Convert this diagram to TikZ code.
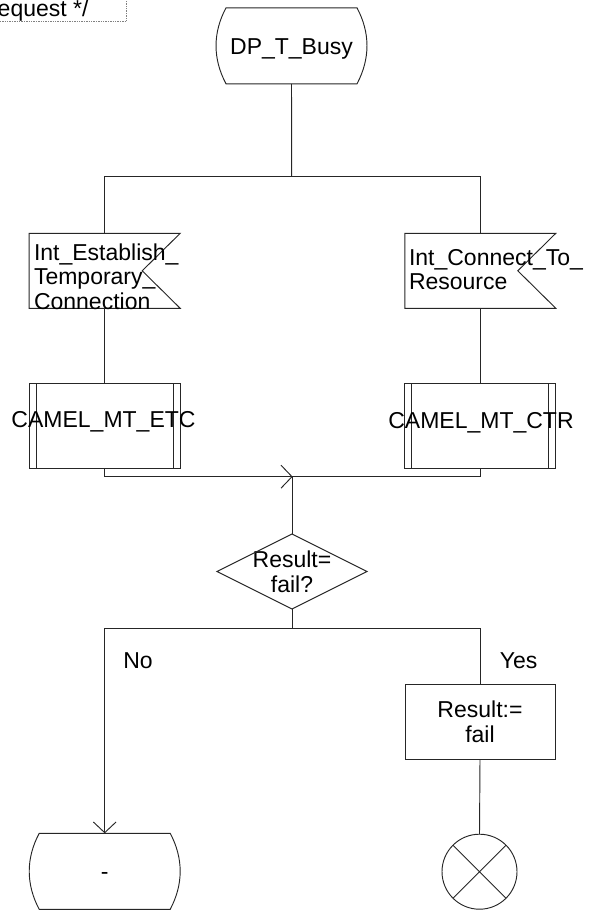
\documentclass[tikz,border=0pt]{standalone}
\usepackage{fontspec}
\setmainfont{Liberation Sans}
\usetikzlibrary{calc,arrows.meta}
\tikzset{
  base/.style={draw=none, inner sep=0pt, outer sep=0pt, font=\fontsize{17.25pt}{18.5pt}\selectfont, align=center},
  statebox/.style={base, minimum width=113.25pt, minimum height=57pt},
  sigbox/.style={base, minimum width=113.25pt, minimum height=56.25pt},
  procbox/.style={base, minimum width=113.25pt, minimum height=63.75pt},
  decbox/.style={base, minimum width=112.5pt, minimum height=56.25pt},
  taskbox/.style={base, draw, minimum width=112.5pt, minimum height=56.25pt},
  stopcirc/.style={base, draw, circle, minimum size=56.25pt},
  lbl/.style={base, align=left},
  flow/.style={line width=0.7pt, draw=black!85},
  openarrow/.style={-{Straight Barb[length=8pt,width=17pt,line width=0.7pt]}},
}
\newcommand{\sdlstate}[1]{%
  \draw[flow] ($(#1.north west)+(10,0)$) -- ($(#1.north east)+(-10,0)$)
    .. controls ($(#1.north east)+(3.3,25)$) and ($(#1.south east)+(3.3,-25)$) .. ($(#1.south east)+(-10,0)$)
    -- ($(#1.south west)+(10,0)$)
    .. controls ($(#1.south west)+(-3.3,-25)$) and ($(#1.north west)+(-3.3,25)$) .. cycle;}
\newcommand{\sdlinput}[1]{%
  \draw[flow] (#1.north west) -- (#1.north east) -- ($(#1.east)+(-38,0)$) -- (#1.south east) -- (#1.south west) -- cycle;}
\newcommand{\sdlproc}[1]{%
  \draw[flow] (#1.north west) rectangle (#1.south east);
  \draw[flow] ($(#1.north west)+(7,0)$) -- ($(#1.south west)+(7,0)$);
  \draw[flow] ($(#1.north east)+(-7,0)$) -- ($(#1.south east)+(-7,0)$);}
\newcommand{\sdldec}[1]{%
  \draw[flow] (#1.north) -- (#1.east) -- (#1.south) -- (#1.west) -- cycle;}
\begin{document}
\begin{tikzpicture}[x=0.75pt,y=-0.75pt]
\clip (0,0) rectangle (590,913);
\useasboundingbox (0,0) rectangle (590,913);

% comment fragment
\node[lbl, anchor=east] (cmt) at (88.5,10.5) {equest */};
\draw[gray, line width=0.5pt, dash pattern=on 1pt off 0.8pt] (-5,21.7) -- (126.7,21.7) -- (126.7,-5);

% nodes
\node[statebox, text height=12.5pt, text depth=0pt] (start) at (291.5,45.8) {DP\_T\_Busy};
\sdlstate{start}

\node[sigbox] (sig1) at (104.7,270.8) {};
\sdlinput{sig1}
\node[lbl, anchor=west] (sig1t) at (34,276.5) {Int\_Establish\_\\Temporary\_\\Connection};

\node[sigbox] (sig2) at (480.3,270.8) {};
\sdlinput{sig2}
\node[lbl, anchor=west] (sig2t) at (409,269.5) {Int\_Connect\_To\_\\Resource};

\node[procbox] (proc1) at (104.7,425.8) {};
\sdlproc{proc1}
\node[base] (proc1t) at (103.5,421.5) {CAMEL\_MT\_ETC};

\node[procbox] (proc2) at (480.3,426) {};
\sdlproc{proc2}
\node[base] (proc2t) at (481,423) {CAMEL\_MT\_CTR};

\node[decbox] (dec) at (292,571.5) {Result=\\fail?};
\sdldec{dec}

\node[taskbox, flow] (task) at (480,721.8) {Result:=\\fail};

\node[statebox, text height=11.8pt, text depth=0pt] (stop1) at (104.7,871.3) {-};
\sdlstate{stop1}

\node[stopcirc, flow] (circ) at (479.5,871.7) {};
\draw[flow] (circ.north west) -- (circ.south east) (circ.north east) -- (circ.south west);

\node[base] (no) at (138,661) {No};
\node[base] (yes) at (518.7,661) {Yes};

% junctions
\coordinate (j1) at (291.7,176.7);
\coordinate (j2) at (292,476.7);
\coordinate (j3) at (292,628);

% connectors
\draw[flow] (start.south) -- (j1);
\draw[flow] (sig1.north) |- (j1) -| (sig2.north);
\draw[flow] (sig1.south) -- (proc1.north);
\draw[flow] (sig2.south) -- (proc2.north);
\draw[flow] (proc1.south) |- (j2) -| (proc2.south);
\draw[flow] ($(j2)+(-11,-11.5)$) -- (j2) -- ($(j2)+(-11,11.5)$);
\draw[flow] (j2) -- (dec.north);
\draw[flow] (dec.south) -- (j3);
\draw[flow, openarrow] (j3) -| (stop1.north);
\draw[flow] (j3) -| (task.north);
\draw[flow] (task.south) -- (circ.north);
\end{tikzpicture}
\end{document}
